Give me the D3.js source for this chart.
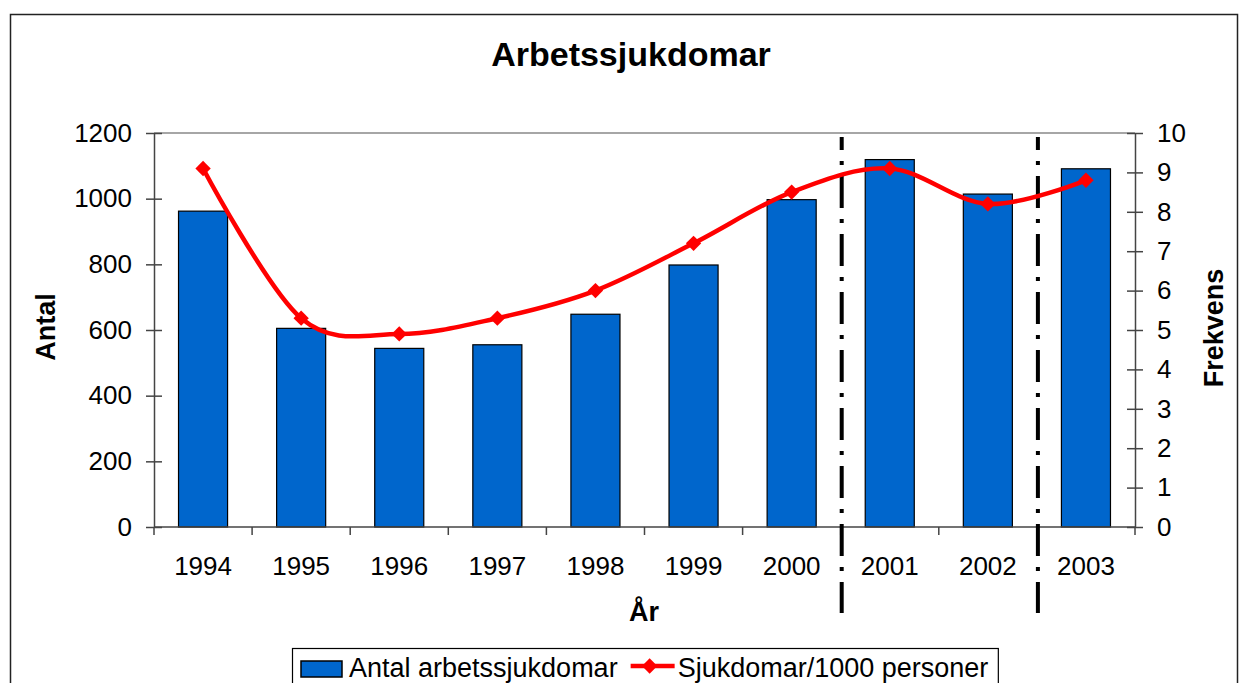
<!DOCTYPE html>
<html>
<head>
<meta charset="utf-8">
<script src="https://cdn.jsdelivr.net/npm/d3@7"></script>
<style>
  body { margin: 0; background: #fff; }
  text { font-family: "Liberation Sans", Arial, sans-serif; fill: #000; }
</style>
</head>
<body>
<div id="chart"></div>
<script>
// Data
var years = ["1994", "1995", "1996", "1997", "1998", "1999", "2000", "2001", "2002", "2003"];
var antal = [962, 605, 544, 555, 648, 798, 997, 1119, 1014, 1091];
var frekvens = [9.1, 5.3, 4.9, 5.3, 6.0, 7.2, 8.5, 9.1, 8.2, 8.8];
var leftTicks = [0, 200, 400, 600, 800, 1000, 1200];
var rightTicks = [0, 1, 2, 3, 4, 5, 6, 7, 8, 9, 10];
var breakAfter = ["2000", "2002"];

var svg = d3.select("#chart").append("svg")
    .attr("width", 1239)
    .attr("height", 683);

// Plot area
var plotLeft = 154, plotRight = 1135, plotTop = 133, plotBottom = 527;

var xScale = d3.scaleBand()
    .domain(years)
    .range([plotLeft, plotRight])
    .paddingInner(0.5)
    .paddingOuter(0.25);
var xBand = d3.scaleBand()
    .domain(years)
    .range([plotLeft, plotRight]);
var yLeft = d3.scaleLinear()
    .domain([0, 1200])
    .range([plotBottom, plotTop]);
var yRight = d3.scaleLinear()
    .domain([0, 10])
    .range([plotBottom, plotTop]);

// Outer frame
svg.append("rect")
    .attr("x", 10.5).attr("y", 14.5)
    .attr("width", 1227).attr("height", 700)
    .attr("fill", "none")
    .attr("stroke", "#222")
    .attr("stroke-width", 1.5);

// Title
svg.append("text")
    .attr("x", 631).attr("y", 66)
    .attr("text-anchor", "middle")
    .style("font-size", "34px")
    .style("font-weight", "bold")
    .text("Arbetssjukdomar");

// Top border of plot area
svg.append("line")
    .attr("x1", plotLeft).attr("x2", plotRight)
    .attr("y1", plotTop).attr("y2", plotTop)
    .attr("stroke", "#888")
    .attr("stroke-width", 1.5);

// Bars
svg.selectAll(".bar")
    .data(antal)
    .enter()
    .append("rect")
    .attr("class", "bar")
    .attr("x", (d, i) => xScale(years[i]))
    .attr("y", d => yLeft(d))
    .attr("width", xScale.bandwidth())
    .attr("height", d => yLeft(0) - yLeft(d))
    .attr("fill", "#0066CC")
    .attr("stroke", "#000")
    .attr("stroke-width", 1.2);

// Axes
var yAxisL = d3.axisLeft(yLeft).tickValues(leftTicks).tickFormat(d3.format("d"))
    .tickSizeInner(8).tickSizeOuter(0).tickPadding(14);
var yAxisR = d3.axisRight(yRight).tickValues(rightTicks).tickFormat(d3.format("d"))
    .tickSizeInner(8).tickSizeOuter(0).tickPadding(14);
var xAxis = d3.axisBottom(xBand).tickSize(0).tickPadding(30);

var gl = svg.append("g")
    .attr("transform", "translate(" + plotLeft + ",0)")
    .call(yAxisL);
gl.selectAll(".tick line").attr("x2", 8).attr("x1", -8);

var gr = svg.append("g")
    .attr("transform", "translate(" + plotRight + ",0)")
    .call(yAxisR);
gr.selectAll(".tick line").attr("x1", -8).attr("x2", 8);

var gx = svg.append("g")
    .attr("transform", "translate(0," + plotBottom + ")")
    .call(xAxis);

[gl, gr, gx].forEach(g => {
    g.select(".domain").attr("stroke", "#444").attr("stroke-width", 1.5);
    g.selectAll(".tick line").attr("stroke", "#444").attr("stroke-width", 1.5);
    g.selectAll("text").style("font-size", "26px").attr("fill", "#000");
});
gx.select(".domain").attr("d", "M" + plotLeft + ",0H" + plotRight);

// Category tick marks on x axis (between categories)
svg.selectAll(".xtick")
    .data(years.concat(["end"]))
    .enter()
    .append("line")
    .attr("x1", (d, i) => i < years.length ? xBand(d) : plotRight)
    .attr("x2", (d, i) => i < years.length ? xBand(d) : plotRight)
    .attr("y1", plotBottom)
    .attr("y2", plotBottom + 8)
    .attr("stroke", "#444")
    .attr("stroke-width", 1.5);

// Axis titles
svg.append("text")
    .attr("x", 644).attr("y", 621)
    .attr("text-anchor", "middle")
    .style("font-size", "27px")
    .style("font-weight", "bold")
    .text("År");
svg.append("text")
    .attr("transform", "translate(55,327) rotate(-90)")
    .attr("text-anchor", "middle")
    .style("font-size", "27px")
    .style("font-weight", "bold")
    .text("Antal");
svg.append("text")
    .attr("transform", "translate(1223,328) rotate(-90)")
    .attr("text-anchor", "middle")
    .style("font-size", "27px")
    .style("font-weight", "bold")
    .text("Frekvens");

// Dash-dot separators
svg.selectAll(".sep")
    .data(breakAfter)
    .enter()
    .append("line")
    .attr("x1", d => xBand(d) + xBand.bandwidth() + 1)
    .attr("x2", d => xBand(d) + xBand.bandwidth() + 1)
    .attr("y1", 137)
    .attr("y2", 613)
    .attr("stroke", "#000")
    .attr("stroke-width", 4)
    .attr("stroke-dasharray", "32,11,4,11")
    .attr("stroke-dashoffset", 19);

// Smoothed line (Excel-like smoothing)
var lineGen = d3.line()
    .x((d, i) => xBand(years[i]) + xBand.bandwidth() / 2)
    .y(d => yRight(d))
    .curve(d3.curveCardinal.tension(0));

svg.append("path")
    .datum(frekvens)
    .attr("d", lineGen)
    .attr("fill", "none")
    .attr("stroke", "#FF0000")
    .attr("stroke-width", 4.5);

var diamond = d3.symbol().type(d3.symbolDiamond2).size(150);
svg.selectAll(".marker")
    .data(frekvens)
    .enter()
    .append("path")
    .attr("d", diamond)
    .attr("transform", (d, i) => "translate(" + (xBand(years[i]) + xBand.bandwidth() / 2) + "," + yRight(d) + ")")
    .attr("fill", "#FF0000");

// Legend
var legend = svg.append("g");
var legendBox = legend.append("rect")
    .attr("x", 292.5).attr("y", 648.5)
    .attr("height", 60)
    .attr("fill", "#fff")
    .attr("stroke", "#000")
    .attr("stroke-width", 1.2);

legend.append("rect")
    .attr("x", 301).attr("y", 661)
    .attr("width", 41).attr("height", 16)
    .attr("fill", "#0066CC")
    .attr("stroke", "#000")
    .attr("stroke-width", 1.5);
var t1 = legend.append("text")
    .attr("x", 349).attr("y", 677)
    .style("font-size", "27px")
    .text("Antal arbetssjukdomar");
var x2 = 349 + t1.node().getComputedTextLength() + 13;
legend.append("line")
    .attr("x1", x2).attr("x2", x2 + 44)
    .attr("y1", 666).attr("y2", 666)
    .attr("stroke", "#FF0000")
    .attr("stroke-width", 4.5);
legend.append("path")
    .attr("d", diamond)
    .attr("transform", "translate(" + (x2 + 19) + ",666)")
    .attr("fill", "#FF0000");
var t2 = legend.append("text")
    .attr("x", x2 + 47).attr("y", 677)
    .style("font-size", "27px")
    .text("Sjukdomar/1000 personer");
legendBox.attr("width", x2 + 47 + t2.node().getComputedTextLength() + 10 - 292.5);
</script>
</body>
</html>
